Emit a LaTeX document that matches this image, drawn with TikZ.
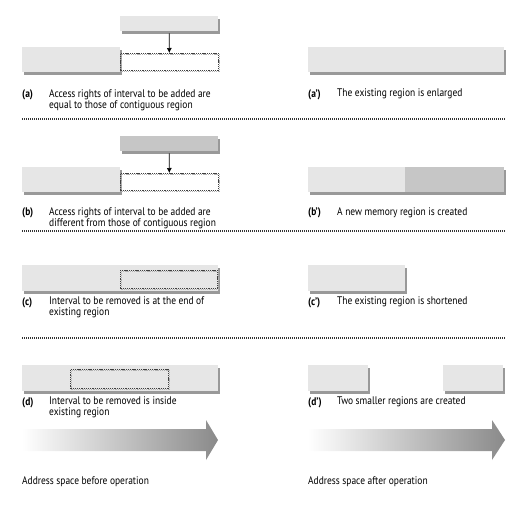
\documentclass[tikz,border=0pt]{standalone}
\usepackage{fontspec}
\setmainfont{PT Sans}[FakeStretch=0.86]
\usetikzlibrary{shadows,arrows.meta}
\definecolor{boxgray}{HTML}{E6E6E6}
\definecolor{regiondark}{HTML}{C6C6C6}
\definecolor{shadowgray}{HTML}{999999}
\definecolor{arrowgray}{HTML}{8A8A8A}
\begin{document}
\begin{tikzpicture}[x=1pt,y=-1pt,
  region/.style={rectangle, inner sep=0pt, anchor=north west, fill=boxgray,
    drop shadow={shadow xshift=2pt, shadow yshift=-2.4pt, fill=shadowgray, opacity=1}},
  newregion/.style={region, fill=regiondark},
  interval/.style={rectangle, inner sep=0pt, anchor=north west, draw=black!75,
    line width=0.6pt, dash pattern=on 1.3pt off 0.9pt,
    preaction={draw=black!30, dash pattern=on 1.3pt off 0.9pt,
      transform canvas={shift={(1pt,-1pt)}}}},
  tag/.style={anchor=north west, inner sep=0pt, font=\fontsize{11}{11}\selectfont\bfseries},
  desc/.style={anchor=north west, inner sep=0pt, align=left, font=\fontsize{11}{11}\selectfont},
  sep/.style={line width=1.1pt, black!80, dash pattern=on 1.1pt off 0.9pt},
  addarrow/.style={-{Latex[length=5pt,width=5pt]}, line width=0.6pt},
]
\useasboundingbox (0,0) rectangle (519,511);

% ---------- (a) adding an interval with the same access rights ----------
\node[region, minimum width=98pt, minimum height=15pt] (atop) at (120,16) {};
\node[region, minimum width=98pt, minimum height=25pt] (abig) at (22,47) {};
\node[interval, minimum width=98pt, minimum height=17pt] (adash) at (120,53) {};
\draw[addarrow] (atop.south) ++(0,2) coordinate (aarr) (aarr) -- (adash.north);
\node[tag] (la) at (22,89) {(a)};
\node[desc] (ta) at (49,89) {Access rights of interval to be added are\\equal to those of contiguous region};
\node[region, minimum width=196pt, minimum height=25pt] (abig2) at (308,47) {};
\node[tag] (la2) at (308,89) {(a’)};
\node[desc] (ta2) at (337,89) {The existing region is enlarged};
\coordinate (sa1) at (22,119);
\coordinate (sa2) at (505,119);
\draw[sep] (sa1) -- (sa2);

% ---------- (b) adding an interval with different access rights ----------
\node[newregion, minimum width=98pt, minimum height=15pt] (btop) at (120,136) {};
\node[region, minimum width=98pt, minimum height=25pt] (bbig) at (22,167) {};
\node[interval, minimum width=98pt, minimum height=17pt] (bdash) at (120,173) {};
\draw[addarrow] (btop.south) ++(0,2) coordinate (barr) (barr) -- (bdash.north);
\node[tag] (lb) at (22,207) {(b)};
\node[desc] (tb) at (49,207) {Access rights of interval to be added are\\different from those of contiguous region};
\node[region, minimum width=196pt, minimum height=25pt] (bbig2) at (308,167) {};
\fill[regiondark] (405,167) rectangle (504,192);
\node[tag] (lb2) at (308,207) {(b’)};
\node[desc] (tb2) at (337,207) {A new memory region is created};
\coordinate (sb1) at (22,231);
\coordinate (sb2) at (505,231);
\draw[sep] (sb1) -- (sb2);

% ---------- (c) removing an interval at the end of a region ----------
\node[region, minimum width=196pt, minimum height=26pt] (cbig) at (22,265) {};
\node[interval, minimum width=97pt, minimum height=18pt] (cdash) at (120,270) {};
\node[tag] (lc) at (22,297) {(c)};
\node[desc] (tc) at (49,297) {Interval to be removed is at the end of\\existing region};
\node[region, minimum width=97pt, minimum height=26pt] (cbig2) at (308,265) {};
\node[tag] (lc2) at (308,297) {(c’)};
\node[desc] (tc2) at (337,297) {The existing region is shortened};
\coordinate (sc1) at (22,338);
\coordinate (sc2) at (505,338);
\draw[sep] (sc1) -- (sc2);

% ---------- (d) removing an interval inside a region ----------
\node[region, minimum width=196pt, minimum height=26pt] (dbig) at (22,365) {};
\node[interval, minimum width=98pt, minimum height=19pt] (ddash) at (70,369) {};
\node[tag] (ld) at (22,397) {(d)};
\node[desc] (td) at (49,397) {Interval to be removed is inside\\existing region};
\node[region, minimum width=60pt, minimum height=26pt] (dleft) at (308,365) {};
\node[region, minimum width=60pt, minimum height=26pt] (dright) at (443,365) {};
\node[tag] (ld2) at (308,397) {(d’)};
\node[desc] (td2) at (337,397) {Two smaller regions are created};

% ---------- address space arrows ----------
\shade[left color=white, right color=arrowgray]
  (22,429) -- (206,429) -- (206,420) -- (218,440) -- (206,460) -- (206,451) -- (22,451) -- cycle;
\shade[left color=white, right color=arrowgray]
  (308,429) -- (492,429) -- (492,420) -- (505,440) -- (492,460) -- (492,451) -- (308,451) -- cycle;
\node[desc] (ab) at (22,476) {Address space before operation};
\node[desc] (aa) at (308,476) {Address space after operation};
\end{tikzpicture}
\end{document}
